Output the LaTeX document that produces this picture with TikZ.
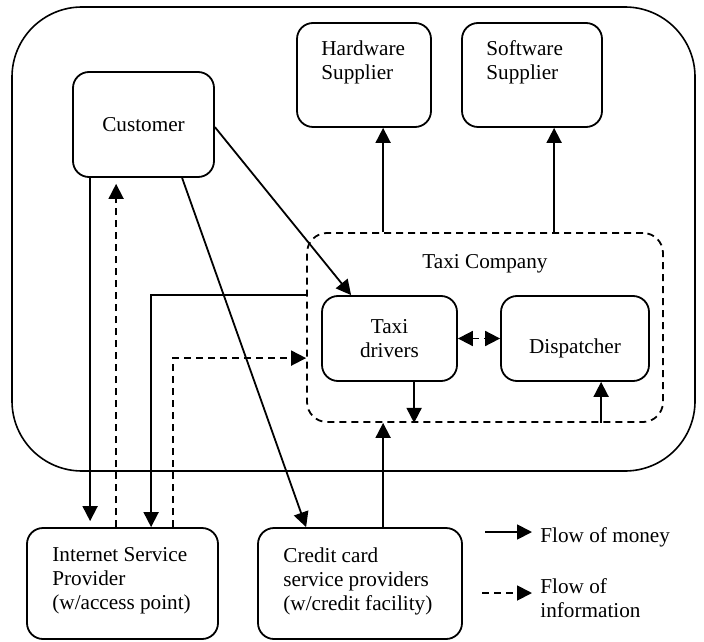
\documentclass[tikz,border=0pt]{standalone}
\usepackage{fontspec}
\setmainfont{Liberation Serif}
\usepackage{tikz}
\usetikzlibrary{calc,arrows.meta,positioning}
\tikzstyle{procbox}=[draw,rounded corners=8pt,line width=0.9pt,inner sep=0pt]
\tikzstyle{boxtext}=[align=left,anchor=west,inner sep=0pt]
\tikzstyle{moneyflow}=[->,line width=0.9pt]
\tikzstyle{infoflow}=[->,line width=0.9pt,dash pattern=on 3.5pt off 2.5pt]

\begin{document}
\begin{tikzpicture}[x=0.5pt,y=-0.5pt,font=\fontsize{10.6}{12}\selectfont,>={Triangle[length=7.5pt,width=7.5pt]}]
\useasboundingbox (0,0) rectangle (704,641);
% outer boundary
\draw (353.5,239) node [draw,rounded corners=35pt,line width=0.8pt,minimum width=341.5pt,minimum height=232pt] (system) {};
% boxes
\draw (143.5,124.5) node [procbox,minimum width=70.5pt,minimum height=52.5pt] (cust) {Customer};
\draw (364,75) node [procbox,minimum width=67pt,minimum height=52pt] (hw) {};
\draw (532,75) node [procbox,minimum width=70pt,minimum height=52pt] (sw) {};
\draw (485,327.5) node [procbox,dash pattern=on 3.5pt off 2.5pt,rounded corners=10pt,minimum width=178pt,minimum height=94.5pt] (company) {};
\draw (389.5,338.5) node [procbox,align=center,minimum width=67.5pt,minimum height=42.5pt] (drivers) {Taxi\\drivers};
\draw (575,338.5) node [procbox,minimum width=74pt,minimum height=42.5pt] (disp) {};
\draw (122.5,583.5) node [procbox,minimum width=95.5pt,minimum height=55.5pt] (isp) {};
\draw (360,583.5) node [procbox,minimum width=102pt,minimum height=55.5pt] (cc) {};
% texts
\draw (321,62) node [boxtext] (hwtext) {Hardware\\Supplier};
\draw (486,62) node [boxtext] (swtext) {Software\\Supplier};
\draw (485,264) node (comptext) {Taxi Company};
\draw (575,348) node (disptext) {Dispatcher};
\draw (52,581) node [boxtext] (isptext) {Internet Service\\Provider\\(w/access point)};
\draw (283,581) node [boxtext] (cctext) {Credit card\\service providers\\(w/credit facility)};
\draw (540,537) node [boxtext] (moneytext) {Flow of money};
\draw (540,598) node [boxtext] (infotext) {Flow of\\information};
% flows
\draw[moneyflow] ($(cust.south west)+(18,0)$) -- ($(isp.north west)+(64,-6)$);
\draw[infoflow] ($(isp.north west)+(90,0)$) -- ($(cust.south west)+(44,6)$);
\draw[moneyflow] ($(company.north west)+(0,63)$) -| ($(isp.north west)+(125,0)$);
\draw[infoflow] ($(isp.north west)+(147,0)$) |- ($(company.north west)+(0,126)$);
\draw[moneyflow] ($(cust.south west)+(110,0)$) -- ($(cc.north west)+(49,0)$);
\draw[moneyflow] ($(cust.north east)+(0,56)$) -- ($(drivers.north west)+(30,0)$);
\draw[moneyflow] ($(cc.north west)+(126,0)$) -- ($(company.south west)+(77,0)$);
\draw[moneyflow] ($(company.north west)+(77,0)$) -- ($(hw.south west)+(87,0)$);
\draw[moneyflow] ($(company.north west)+(248,0)$) -- ($(sw.south west)+(93,0)$);
\draw[moneyflow] ($(drivers.south west)+(93,0)$) -- ($(company.south west)+(108,0)$);
\draw[moneyflow] ($(company.south west)+(295,0)$) -- ($(disp.south west)+(101,0)$);
\draw[infoflow,<->] (drivers.east) -- (disp.west);
% legend
\coordinate (moneystart) at (485,532);
\coordinate (moneyend) at (532,532);
\coordinate (infostart) at (482,593);
\coordinate (infoend) at (532,593);
\draw[moneyflow] (moneystart) -- (moneyend);
\draw[infoflow] (infostart) -- (infoend);
\end{tikzpicture}
\end{document}
